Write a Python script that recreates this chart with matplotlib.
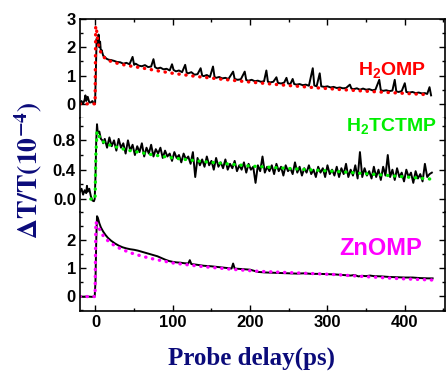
import matplotlib
matplotlib.use("Agg")
import matplotlib.pyplot as plt
from matplotlib.ticker import MultipleLocator

plt.rcParams['font.family'] = 'Liberation Sans'
plt.rcParams['font.weight'] = 'bold'
plt.rcParams['mathtext.fontset'] = 'custom'
plt.rcParams['mathtext.rm'] = 'Liberation Sans:bold'
plt.rcParams['mathtext.bf'] = 'Liberation Sans:bold'
plt.rcParams['mathtext.it'] = 'Liberation Sans:bold'

# ---- H2OMP (top) ----
h2omp_t = [-20, -18, -16, -14, -13, -12, -10, -8, -6, -4, -2, -0.5, 0.5, 1.5, 3, 4, 5, 6, 7, 8, 10, 12, 14, 17,
           20, 24, 28, 32, 36, 40, 44, 48, 50, 52, 56, 60, 64, 68, 72, 75, 77, 80, 84, 88, 92, 96, 99, 101,
           104, 108, 112, 116, 118, 120, 124, 128, 132, 136, 138, 140, 144, 148, 152, 154, 156, 160, 164,
           168, 172, 178, 180, 184, 188, 193, 195, 198, 202, 206, 210, 214, 218, 221, 223, 226, 230, 234,
           236, 240, 244, 247, 249, 252, 255, 257, 260, 264, 268, 272, 276, 281, 283, 286, 290, 292, 296,
           300, 304, 308, 312, 316, 320, 324, 329, 331, 334, 338, 342, 346, 350, 354, 358, 362, 367, 369,
           372, 376, 380, 384, 387, 389, 392, 396, 400, 402, 406, 410, 414, 418, 422, 426, 429, 432, 434]
h2omp_y = [0.05, 0.10, 0.00, 0.15, 0.30, 0.10, 0.25, 0.05, 0.05, 0.10, 0.00, 0.00, 1.20, 2.30, 2.10, 2.45, 2.00,
           2.20, 1.85, 1.90, 1.70, 1.66, 1.60, 1.56,
           1.55, 1.52, 1.48, 1.47, 1.42, 1.45, 1.40, 1.66, 1.38, 1.42, 1.35, 1.33, 1.37, 1.30, 1.32, 1.58,
           1.30, 1.25, 1.28, 1.22, 1.24, 1.18, 1.40, 1.20, 1.15, 1.18, 1.12, 1.38, 1.10, 1.08, 1.12, 1.03,
           1.05, 1.26, 1.00, 0.98, 1.02, 0.95, 1.32, 0.95, 0.92, 0.95, 0.90, 0.92, 0.88, 1.14, 0.88, 0.85,
           0.87, 1.14, 0.84, 0.82, 0.85, 0.80, 0.82, 0.78, 0.80, 1.18, 0.78, 0.76, 0.78, 0.94, 0.74, 0.72,
           0.75, 0.92, 0.72, 0.70, 0.88, 0.70, 0.68, 0.70, 0.66, 0.68, 0.64, 1.26, 0.65, 0.62, 1.08, 0.62,
           0.60, 0.62, 0.58, 0.60, 0.56, 0.58, 0.55, 0.56, 0.68, 0.54, 0.52, 0.55, 0.50, 0.54, 0.50, 0.52,
           0.48, 0.50, 0.85, 0.48, 0.46, 0.48, 0.45, 0.47, 0.85, 0.44, 0.42, 0.45, 0.73, 0.42, 0.40, 0.42,
           0.38, 0.40, 0.37, 0.38, 0.35, 0.59, 0.30]
h2omp_fit_t = [-20, -0.5, 0.3, 1.5, 3, 5, 8, 12, 16, 20, 30, 40, 60, 80, 100, 130, 160, 200, 240, 280, 320,
               360, 400, 432]
h2omp_fit_y = [0, 0, 2.75, 2.6, 2.2, 1.95, 1.75, 1.62, 1.55, 1.5, 1.42, 1.36, 1.27, 1.17, 1.08, 0.97, 0.88,
               0.77, 0.67, 0.58, 0.5, 0.43, 0.37, 0.32]

# ---- H2TCTMP (middle) ----
h2tc_t = [-20, -18, -16, -14, -12, -11, -10, -8, -6, -4, -2, -1, 0, 1, 2, 3, 5, 7, 9, 10,
          12, 15, 18, 21, 24, 27, 30, 33, 36, 39, 42, 45, 48, 51, 54, 57, 60, 63, 66, 69, 72, 75, 78, 81,
          84, 87, 90, 93, 96, 99, 102, 105, 108, 111, 114, 117, 120, 123, 126, 129, 132, 135, 138, 141,
          144, 147, 150, 153, 156, 159, 162, 165, 168, 171, 174, 177, 180, 183, 186, 189, 192, 195, 198,
          201, 204, 207, 210, 213, 216, 219, 222, 225, 228, 231, 234, 237, 240, 243, 246, 249, 252, 255,
          258, 261, 264, 267, 270, 273, 276, 279, 282, 285, 288, 291, 294, 297, 300, 303, 306, 309, 312,
          315, 318, 321, 324, 327, 330, 333, 336, 339, 342, 345, 348, 351, 354, 357, 360, 363, 366, 369,
          372, 375, 378, 381, 384, 387, 390, 393, 396, 399, 402, 405, 408, 411, 414, 417, 420, 423, 426,
          429, 432, 435]
h2tc_y = [0.10, 0.14, 0.06, 0.12, 0.08, 0.18, 0.10, 0.14, 0.04, -0.02, -0.03, 0.00, 0.30, 0.80, 1.02, 0.90,
          0.92, 0.82, 0.80, 0.76,
          0.82, 0.70, 0.84, 0.72, 0.80, 0.66, 0.82, 0.70, 0.76, 0.62, 0.80, 0.66, 0.74, 0.60, 0.72, 0.64,
          0.76, 0.58, 0.70, 0.62, 0.74, 0.58, 0.68, 0.62, 0.70, 0.56, 0.66, 0.58, 0.62, 0.52, 0.64, 0.56,
          0.60, 0.50, 0.62, 0.54, 0.58, 0.48, 0.64, 0.30, 0.56, 0.46, 0.54, 0.44, 0.58, 0.46, 0.52, 0.40,
          0.56, 0.44, 0.50, 0.42, 0.54, 0.40, 0.48, 0.42, 0.52, 0.38, 0.46, 0.40, 0.50, 0.36, 0.48, 0.40,
          0.44, 0.22, 0.46, 0.38, 0.58, 0.36, 0.44, 0.38, 0.46, 0.34, 0.48, 0.38, 0.44, 0.32, 0.46, 0.38,
          0.42, 0.34, 0.50, 0.36, 0.44, 0.32, 0.42, 0.36, 0.46, 0.34, 0.40, 0.30, 0.44, 0.36, 0.42, 0.30,
          0.46, 0.34, 0.40, 0.32, 0.44, 0.30, 0.42, 0.34, 0.48, 0.30, 0.40, 0.32, 0.46, 0.28, 0.64, 0.30,
          0.42, 0.32, 0.38, 0.28, 0.44, 0.30, 0.40, 0.26, 0.44, 0.32, 0.60, 0.30, 0.40, 0.26, 0.42, 0.30,
          0.36, 0.24, 0.40, 0.30, 0.36, 0.22, 0.38, 0.28, 0.34, 0.24, 0.48, 0.30, 0.34, 0.36]
h2tc_fit_t = [-6, -0.5, 0.5, 2, 5, 10, 20, 40, 70, 100, 140, 200, 260, 320, 380, 436]
h2tc_fit_y = [0, 0, 0.6, 0.92, 0.85, 0.78, 0.73, 0.67, 0.61, 0.56, 0.51, 0.45, 0.41, 0.37, 0.32, 0.27]

# ---- ZnOMP (bottom) ----
zn_t = [-20, -15, -10, -5, -1, 0, 1, 2, 3, 5, 7, 10, 13, 16, 20, 25, 30, 35, 40, 45, 50, 55, 60, 65, 70,
        75, 80, 85, 90, 95, 100, 105, 110, 115, 120, 122, 124, 130, 135, 140, 150, 160, 170, 176, 178, 180,
        190, 200, 205, 210, 220, 230, 240, 250, 260, 270, 280, 290, 300, 310, 320, 330, 335, 340, 345, 350,
        355, 360, 370, 380, 390, 400, 410, 420, 430, 436]
zn_y = [-0.02, -0.03, -0.02, -0.03, -0.02, 0.50, 2.00, 2.85, 2.80, 2.60, 2.45, 2.30, 2.18, 2.08, 1.98, 1.88,
        1.80, 1.74, 1.70, 1.67, 1.65, 1.62, 1.58, 1.54, 1.50, 1.46, 1.42, 1.36, 1.30, 1.25, 1.22, 1.20, 1.19,
        1.17, 1.16, 1.28, 1.14, 1.12, 1.10, 1.08, 1.06, 1.03, 1.00, 0.98, 1.16, 0.98, 0.96, 0.94, 0.90, 0.86,
        0.84, 0.83, 0.82, 0.81, 0.80, 0.81, 0.79, 0.79, 0.78, 0.77, 0.75, 0.73, 0.75, 0.70, 0.72, 0.71, 0.73,
        0.71, 0.70, 0.68, 0.67, 0.66, 0.66, 0.64, 0.63, 0.63]
zn_fit_t = [-20, -0.5, 0.5, 2, 5, 10, 15, 20, 30, 40, 50, 70, 100, 135, 178, 212, 264, 307, 350, 393, 436]
zn_fit_y = [-0.02, -0.02, 2.65, 2.55, 2.4, 2.15, 2.0, 1.88, 1.72, 1.6, 1.5, 1.35, 1.18, 1.06, 0.95, 0.88,
            0.82, 0.77, 0.69, 0.62, 0.57]

panels = [
    (h2omp_t, h2omp_y, h2omp_fit_t, h2omp_fit_y, '#ff0000', r'$\mathbf{H_2OMP}$', 383, 1.2, 14,
     (-0.5, 3.0), [0, 1, 2, 3], 0.5),
    (h2tc_t, h2tc_y, h2tc_fit_t, h2tc_fit_y, '#00ee00', r'$\mathbf{H_2TCTMP}$', 383, 1.0, 14,
     (-0.177, 1.105), [0.0, 0.4, 0.8], 0.2),
    (zn_t, zn_y, zn_fit_t, zn_fit_y, '#ff00ff', 'ZnOMP', 369, 1.71, 17,
     (-0.536, 3.0), [0, 1, 2], 0.5),
]

W, H = 446, 371
fig = plt.figure(figsize=(W / 100, H / 100), dpi=100)
rows = [(19, 118), (118, 212), (212, 311)]
navy = '#0b0b7a'

for i, (tt, yy, ft, fy, col, lab, lx, ly, lfs, ylim, yt, ymin) in enumerate(panels):
    top_px, bot_px = rows[i]
    ax = fig.add_axes([80 / W, 1 - bot_px / H, 365 / W, (bot_px - top_px) / H])
    ax.plot(tt, yy, color='black', lw=1.4)
    ax.plot(ft, fy, color=col, lw=2.4, linestyle=(0, (0.1, 2.0)), dash_capstyle='round')
    ax.text(lx, ly, lab, color=col, fontsize=lfs, fontweight='bold', ha='center', va='center')
    ax.set_xlim(-20, 452)
    ax.set_ylim(*ylim)
    ax.set_yticks(yt)
    if i == 1:
        ax.set_yticklabels(['0.0', '0.4', '0.8'])
    ax.yaxis.set_minor_locator(MultipleLocator(ymin))
    ax.xaxis.set_major_locator(MultipleLocator(100))
    ax.xaxis.set_minor_locator(MultipleLocator(50))
    ax.tick_params(which='both', direction='in', left=True, right=True, top=(i == 0), bottom=(i == 2),
                   labelsize=12, pad=3, width=1)
    ax.tick_params(which='major', length=4)
    ax.tick_params(which='minor', length=2)
    ax.spines['top'].set_visible(i == 0)
    ax.spines['bottom'].set_visible(i == 2)
    for s in ax.spines.values():
        s.set_linewidth(1.2)
    if i != 2:
        ax.tick_params(labelbottom=False)
    for lbl in ax.get_xticklabels() + ax.get_yticklabels():
        lbl.set_fontweight('bold')

fig.text(28 / W, 1 - 170 / H, r'$\mathbf{\Delta T/T(10^{-4})}$', rotation=90, color=navy,
         fontsize=20, ha='center', va='center', math_fontfamily='stix')
fig.text(252 / W, 1 - 358 / H, 'Probe delay(ps)', color=navy, fontsize=18, fontweight='bold',
         family='Liberation Serif', ha='center', va='center')

fig.savefig('out.png', dpi=100)
